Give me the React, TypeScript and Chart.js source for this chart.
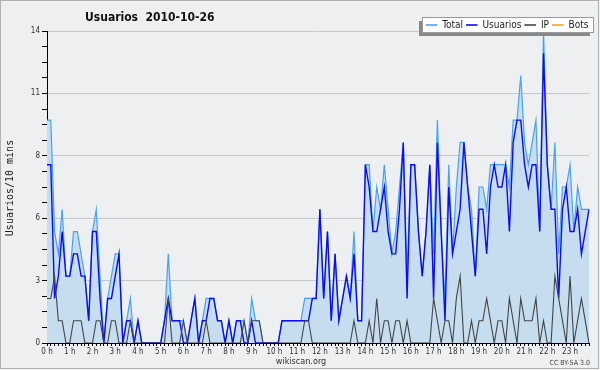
import { useEffect, useRef } from "react";
import { Chart, registerables } from "chart.js";

Chart.register(...registerables);

const chartTitle = "Usuarios  2010-10-26";
const yTitle = "Usuarios/10 mins";
const hourLabels = [
  "0 h", "1 h", "2 h", "3 h", "4 h", "5 h", "6 h", "7 h", "8 h", "9 h", "10 h", "11 h",
  "12 h", "13 h", "14 h", "15 h", "16 h", "17 h", "18 h", "19 h", "20 h", "21 h", "22 h", "23 h",
];
const minuteLabels = ["00", "10", "20", "30", "40", "50"];
const yMax = 14;
const yStep = 0.7;

const total = [
  10, 10, 5, 4, 6, 3, 3, 5, 5, 4, 3, 1,
  5, 6, 3, 0, 2, 3, 4, 4, 0, 1, 2, 0,
  1, 0, 0, 0, 0, 0, 0, 1, 4, 1, 1, 1,
  1, 0, 1, 2, 0, 1, 2, 2, 2, 1, 1, 0,
  1, 0, 1, 1, 1, 0, 2, 1, 1, 0, 0, 0,
  0, 0, 1, 1, 1, 1, 1, 1, 2, 2, 2, 2,
  6, 2, 5, 1, 4, 1, 2, 3, 2, 5, 1, 1,
  8, 8, 5, 7, 6, 8, 6, 4, 5, 7, 9, 3,
  8, 8, 5, 3, 5, 8, 4, 10, 5, 2, 8, 4,
  7, 9, 9, 7, 6, 3, 7, 7, 6, 8, 8, 8,
  8, 8, 7, 10, 10, 12, 9, 8, 9, 10, 5, 14,
  8, 6, 9, 4, 7, 7, 8, 5, 7, 6, 6, 6,
];

const usuarios = [
  8, 8, 2, 3, 5, 3, 3, 4, 4, 3, 3, 1,
  5, 5, 2, 0, 2, 2, 3, 4, 0, 1, 1, 0,
  1, 0, 0, 0, 0, 0, 0, 1, 2, 1, 1, 1,
  0, 0, 1, 2, 0, 1, 1, 2, 2, 1, 1, 0,
  1, 0, 1, 1, 0, 0, 1, 0, 0, 0, 0, 0,
  0, 0, 1, 1, 1, 1, 1, 1, 1, 1, 2, 2,
  6, 2, 5, 1, 4, 1, 2, 3, 2, 4, 1, 1,
  8, 7, 5, 5, 6, 7, 5, 4, 4, 6, 9, 2,
  8, 8, 5, 3, 5, 8, 2, 9, 5, 1, 7, 4,
  5, 6, 9, 7, 5, 3, 6, 6, 4, 7, 8, 7,
  7, 8, 5, 9, 10, 10, 8, 7, 8, 8, 5, 13,
  8, 6, 6, 2, 6, 7, 5, 5, 6, 4, 5, 6,
];

const ip = [
  2, 2, 3, 1, 1, 0, 0, 1, 1, 1, 0, 0,
  0, 1, 1, 0, 0, 1, 1, 0, 0, 0, 1, 0,
  0, 0, 0, 0, 0, 0, 0, 0, 2, 0, 0, 0,
  1, 0, 0, 0, 0, 0, 1, 0, 0, 0, 0, 0,
  0, 0, 0, 0, 1, 0, 1, 1, 1, 0, 0, 0,
  0, 0, 0, 0, 0, 0, 0, 0, 1, 1, 0, 0,
  0, 0, 0, 0, 0, 0, 0, 0, 0, 1, 0, 0,
  0, 1, 0, 2, 0, 1, 1, 0, 1, 1, 0, 1,
  0, 0, 0, 0, 0, 0, 2, 1, 0, 1, 1, 0,
  2, 3, 0, 0, 1, 0, 1, 1, 2, 1, 0, 1,
  1, 0, 2, 1, 0, 2, 1, 1, 1, 2, 0, 1,
  0, 0, 3, 2, 1, 0, 3, 0, 1, 2, 1, 0,
];

const bots = [
  0, 0, 0, 0, 0, 0, 0, 0, 0, 0, 0, 0,
  0, 0, 0, 0, 0, 0, 0, 0, 0, 0, 0, 0,
  0, 0, 0, 0, 0, 0, 0, 0, 0, 0, 0, 0,
  0, 0, 0, 0, 0, 0, 0, 0, 0, 0, 0, 0,
  0, 0, 0, 0, 0, 0, 0, 0, 0, 0, 0, 0,
  0, 0, 0, 0, 0, 0, 0, 0, 0, 0, 0, 0,
  0, 0, 0, 0, 0, 0, 0, 0, 0, 0, 0, 0,
  0, 0, 0, 0, 0, 0, 0, 0, 0, 0, 0, 0,
  0, 0, 0, 0, 0, 0, 0, 0, 0, 0, 0, 0,
  0, 0, 0, 0, 0, 0, 0, 0, 0, 0, 0, 0,
  0, 0, 0, 0, 0, 0, 0, 0, 0, 0, 0, 0,
  0, 0, 0, 0, 0, 0, 0, 0, 0, 0, 0, 0,
];

const seriesNames = ["Total", "Usuarios", "IP", "Bots"];
const seriesColors = ["#45a3f5", "#0a0aff", "#444444", "#ffa31a"];

const slotLabels = hourLabels.flatMap((h) => minuteLabels.map((m) => h + m));

const COND = "'DejaVu Sans Condensed', 'DejaVu Sans', sans-serif";

const decorPlugin = {
  id: "decor",
  beforeDraw(chart: any) {
    const ctx = chart.ctx;
    ctx.save();
    ctx.fillStyle = "#eeeff0";
    ctx.fillRect(0, 0, chart.width, chart.height);
    ctx.strokeStyle = "#b0b0b0";
    ctx.lineWidth = 1;
    ctx.strokeRect(0.5, 0.5, chart.width - 2, chart.height - 2);
    ctx.restore();
  },
  afterDraw(chart: any) {
    const ctx = chart.ctx;
    ctx.save();
    // title
    ctx.fillStyle = "#111";
    ctx.font = "bold 12px " + COND;
    ctx.textAlign = "left";
    ctx.textBaseline = "alphabetic";
    ctx.fillText(chartTitle, 85, 21);

    // y axis title
    ctx.save();
    ctx.translate(10.5, 188);
    ctx.rotate(-Math.PI / 2);
    ctx.font = "10px 'DejaVu Sans Mono', monospace";
    ctx.textAlign = "center";
    ctx.textBaseline = "middle";
    ctx.fillStyle = "#222";
    ctx.fillText(yTitle, 0, 0);
    ctx.restore();

    // legend
    const bx = 422.5, by = 17.5, bw = 171, bh = 15;
    ctx.fillStyle = "#888";
    ctx.fillRect(bx - 3.5, by + 3.5, bw, bh);
    ctx.fillStyle = "#ffffff";
    ctx.fillRect(bx, by, bw, bh);
    ctx.strokeStyle = "#999";
    ctx.lineWidth = 1;
    ctx.strokeRect(bx, by, bw, bh);
    ctx.font = "10px " + COND;
    ctx.textBaseline = "middle";
    ctx.textAlign = "left";
    let x = 425.7;
    const ly = by + bh / 2;
    seriesNames.forEach((name, i) => {
      ctx.strokeStyle = seriesColors[i];
      ctx.lineWidth = 1.6;
      ctx.beginPath();
      ctx.moveTo(x, ly);
      ctx.lineTo(x + 11.5, ly);
      ctx.stroke();
      x += 11.5 + 5;
      ctx.fillStyle = "#222";
      ctx.fillText(name, x, ly + 0.5);
      x += ctx.measureText(name).width + 3;
    });

    // footer
    ctx.fillStyle = "#333";
    ctx.font = "9px " + COND;
    ctx.textAlign = "center";
    ctx.textBaseline = "alphabetic";
    ctx.fillText("wikiscan.org", 301, 364);
    ctx.fillStyle = "#444";
    ctx.font = "7px " + COND;
    ctx.textAlign = "right";
    ctx.fillText("CC BY-SA 3.0", 590, 365);
    ctx.restore();
  },
};

export default function App() {
  const ref = useRef<HTMLCanvasElement | null>(null);

  useEffect(() => {
    document.body.style.margin = "0";
    const canvas = ref.current;
    if (!canvas) return;
    const chart = new Chart(canvas, {
      type: "line",
      data: {
        labels: slotLabels,
        datasets: [
          {
            label: seriesNames[0],
            data: total,
            borderColor: seriesColors[0],
            backgroundColor: "#c6ddf0",
            borderWidth: 1.2,
            fill: "origin",
            pointRadius: 0,
            tension: 0,
            order: 3,
          },
          {
            label: seriesNames[1],
            data: usuarios,
            borderColor: seriesColors[1],
            borderWidth: 1.4,
            fill: false,
            pointRadius: 0,
            tension: 0,
            order: 2,
          },
          {
            label: seriesNames[2],
            data: ip,
            borderColor: seriesColors[2],
            borderWidth: 1.1,
            fill: false,
            pointRadius: 0,
            tension: 0,
            order: 1,
          },
          {
            label: seriesNames[3],
            data: bots,
            borderColor: seriesColors[3],
            borderWidth: 1,
            fill: false,
            pointRadius: 0,
            tension: 0,
            order: 4,
          },
        ],
      },
      options: {
        responsive: false,
        animation: false,
        devicePixelRatio: 1,
        layout: { padding: { left: 0, right: 11, top: 31, bottom: 0 } },
        plugins: {
          legend: { display: false },
          title: { display: false },
          tooltip: { enabled: false },
        },
        elements: { line: { borderJoinStyle: "miter" } },
        scales: {
          x: {
            type: "category",
            offset: false,
            afterFit: (scale: any) => {
              scale.height = 27;
            },
            border: { display: true, color: "#000", width: 1 },
            grid: {
              drawOnChartArea: false,
              drawTicks: true,
              tickLength: 3,
              tickColor: "#000",
            },
            ticks: {
              autoSkip: false,
              maxRotation: 0,
              minRotation: 0,
              padding: 1,
              color: "#333",
              font: { family: COND, size: 8 },
              callback: (_v: any, index: number) =>
                index % 6 === 0 ? hourLabels[index / 6] : "",
            },
          },
          y: {
            type: "linear",
            min: 0,
            max: yMax,
            afterFit: (scale: any) => {
              scale.width = 47;
            },
            border: { display: true, color: "#000", width: 1 },
            grid: {
              drawOnChartArea: true,
              drawTicks: true,
              tickLength: 5,
              tickColor: "#000",
              color: (c: any) =>
                c.index % 4 === 0 && c.index > 0 ? "#c8c8c8" : "rgba(0,0,0,0)",
            },
            ticks: {
              stepSize: yStep,
              autoSkip: false,
              padding: 2,
              color: "#333",
              font: { family: COND, size: 8 },
              callback: (v: any, index: number) =>
                index % 4 === 0 ? String(Math.round(Number(v))) : "",
            },
          },
        },
      },
      plugins: [decorPlugin],
    } as any);
    return () => chart.destroy();
  }, []);

  return (
    <div style={{ width: 600, height: 370 }}>
      <canvas ref={ref} width={600} height={370} style={{ display: "block" }} />
    </div>
  );
}
